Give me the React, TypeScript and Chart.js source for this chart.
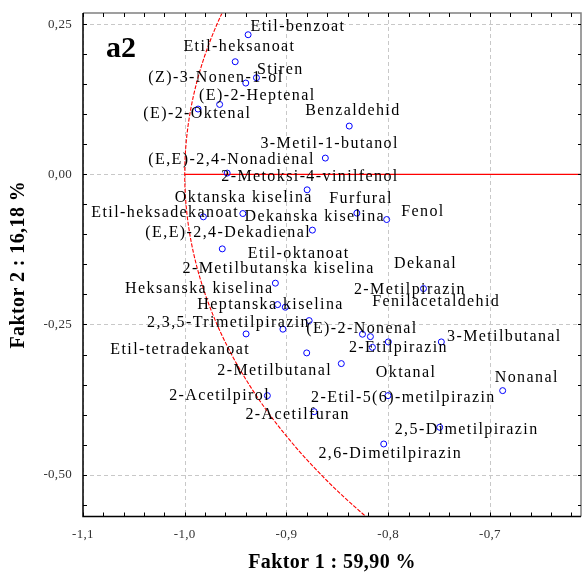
import React, { useEffect, useRef } from "react";
import { Chart, registerables } from "chart.js";

Chart.register(...registerables);

const compounds = [
  "Etil-benzoat", "Etil-heksanoat", "Stiren", "(Z)-3-Nonen-1-ol", "(E)-2-Heptenal",
  "(E)-2-Oktenal", "Benzaldehid", "3-Metil-1-butanol", "(E,E)-2,4-Nonadienal",
  "2-Metoksi-4-vinilfenol", "Oktanska kiselina", "Etil-heksadekanoat", "Furfural", "Fenol",
  "Dekanska kiselina", "(E,E)-2,4-Dekadienal", "2-Metilbutanska kiselina", "Dekanal",
  "Heksanska kiselina", "Heptanska kiselina", "Etil-oktanoat", "2,3,5-Trimetilpirazin",
  "Etil-tetradekanoat", "(E)-2-Nonenal", "2-Metilpirazin", "2-Etilpirazin", "Fenilacetaldehid",
  "3-Metilbutanal", "2-Metilbutanal", "Oktanal", "Nonanal", "2-Etil-5(6)-metilpirazin",
  "2-Acetilfuran", "2,5-Dimetilpirazin", "2,6-Dimetilpirazin", "2-Acetilpirol",
];

const factor1 = [
  -0.9377, -0.9504, -0.9295, -0.94, -0.9657,
  -0.9869, -0.8383, -0.8618, -0.9583,
  -0.8797, -0.9429, -0.9817, -0.8308, -0.8015,
  -0.8745, -0.9631, -0.9109, -0.7653,
  -0.9087, -0.9012, -0.8777, -0.9035,
  -0.9397, -0.8253, -0.8175, -0.7999, -0.8155,
  -0.7478, -0.8801, -0.8461, -0.6875, -0.8002,
  -0.8728, -0.7494, -0.8044, -0.9188,
];

const factor2 = [
  0.2323, 0.1874, 0.1607, 0.1519, 0.1163,
  0.1086, 0.0803, 0.027, 0.002,
  -0.0258, -0.0653, -0.0708, -0.0646, -0.0753,
  -0.0929, -0.1241, -0.1812, -0.1902,
  -0.2169, -0.2212, -0.2435, -0.2578,
  -0.2657, -0.2662, -0.2702, -0.279, -0.2881,
  -0.279, -0.2973, -0.3151, -0.3601, -0.3684,
  -0.3951, -0.4211, -0.4489, -0.3684,
];

// label anchor (left edge, vertical middle) in data units
const labelX = [
  -0.9354, -1.0013, -0.9289, -1.0358, -0.9859,
  -1.0407, -0.8816, -0.9256, -1.0358,
  -0.9641, -1.0097, -1.0918, -0.8579, -0.7872,
  -0.9413, -1.0387, -1.0022, -0.7943,
  -1.0586, -0.9876, -0.938, -1.0371,
  -1.0732, -0.8806, -0.8337, -0.8386, -0.8158,
  -0.7422, -0.968, -0.8122, -0.6953, -0.8758,
  -0.9403, -0.7936, -0.8686, -1.0153,
];

const labelY = [
  0.2462, 0.2129, 0.174, 0.1602, 0.1312,
  0.1003, 0.1058, 0.0508, 0.0242,
  -0.0037, -0.0396, -0.0636, -0.0413, -0.063,
  -0.0703, -0.0969, -0.1579, -0.1496,
  -0.1907, -0.2174, -0.1329, -0.2478,
  -0.2923, -0.2578, -0.1924, -0.2895, -0.2129,
  -0.2712, -0.3278, -0.3311, -0.3394, -0.3718,
  -0.4006, -0.4256, -0.4644, -0.3684,
];

const xMin = -1.1;
const xMax = -0.6105;
const yMin = -0.5696;
const yMax = 0.2685;
const xTickValues = [-1.1, -1.0, -0.9, -0.8, -0.7];
const xTickLabels = ["-1,1", "-1,0", "-0,9", "-0,8", "-0,7"];
const yTickValues = [0.25, 0, -0.25, -0.5];
const yTickLabels = ["0,25", "0,00", "-0,25", "-0,50"];
const xMinorStep = 0.02;
const yMinorStep = 0.05;
const circleRadius = 1;
const xTitle = "Faktor 1 : 59,90 %";
const yTitle = "Faktor 2 : 16,18 %";
const panelTag = "a2";

const SERIF = '"Liberation Serif", "Times New Roman", serif';

const decorPlugin = {
  id: "decor",
  beforeDatasetsDraw(chart: any) {
    const { ctx, chartArea: a, scales } = chart;
    const xs = scales.x, ys = scales.y;
    ctx.save();
    // dashed grid
    ctx.strokeStyle = "#c8c8c8";
    ctx.lineWidth = 1;
    ctx.setLineDash([4, 3]);
    xTickValues.forEach((v) => {
      const px = Math.round(xs.getPixelForValue(v)) + 0.5;
      ctx.beginPath(); ctx.moveTo(px, a.top); ctx.lineTo(px, a.bottom); ctx.stroke();
    });
    yTickValues.forEach((v) => {
      const py = Math.round(ys.getPixelForValue(v)) + 0.5;
      ctx.beginPath(); ctx.moveTo(a.left, py); ctx.lineTo(a.right, py); ctx.stroke();
    });
    // red reference lines
    ctx.beginPath();
    ctx.rect(a.left, a.top, a.right - a.left, a.bottom - a.top);
    ctx.clip();
    ctx.strokeStyle = "#ff0000";
    ctx.setLineDash([]);
    ctx.lineWidth = 1.3;
    const y0 = ys.getPixelForValue(0);
    ctx.beginPath();
    ctx.moveTo(xs.getPixelForValue(-circleRadius), y0);
    ctx.lineTo(a.right, y0);
    ctx.stroke();
    ctx.setLineDash([4, 1.5]);
    ctx.lineWidth = 1.1;
    ctx.beginPath();
    const n = 200;
    for (let i = 0; i <= n; i++) {
      const yv = yMax - (yMax - yMin) * (i / n);
      const xv = -Math.sqrt(circleRadius * circleRadius - yv * yv);
      const px = xs.getPixelForValue(xv), py = ys.getPixelForValue(yv);
      if (i === 0) ctx.moveTo(px, py); else ctx.lineTo(px, py);
    }
    ctx.stroke();
    ctx.restore();
  },
  afterDatasetsDraw(chart: any) {
    const { ctx, chartArea: a, scales } = chart;
    const xs = scales.x, ys = scales.y;
    ctx.save();
    ctx.setLineDash([]);
    // frame
    ctx.strokeStyle = "#808080";
    ctx.lineWidth = 1.5;
    ctx.beginPath();
    ctx.moveTo(a.left, a.top); ctx.lineTo(a.right, a.top); ctx.lineTo(a.right, a.bottom);
    ctx.stroke();
    ctx.strokeStyle = "#000";
    ctx.lineWidth = 1.5;
    ctx.beginPath();
    ctx.moveTo(a.left, a.top); ctx.lineTo(a.left, a.bottom); ctx.lineTo(a.right, a.bottom);
    ctx.stroke();
    // ticks
    ctx.lineWidth = 1;
    ctx.strokeStyle = "#000";
    for (let v = xMin; v <= xMax + 1e-9; v += xMinorStep) {
      const px = Math.round(xs.getPixelForValue(v)) + 0.5;
      ctx.beginPath(); ctx.moveTo(px, a.bottom); ctx.lineTo(px, a.bottom - 4); ctx.stroke();
      ctx.beginPath(); ctx.moveTo(px, a.top); ctx.lineTo(px, a.top + 4); ctx.stroke();
    }
    for (let v = -0.55; v <= yMax + 1e-9; v += yMinorStep) {
      const py = Math.round(ys.getPixelForValue(v)) + 0.5;
      ctx.beginPath(); ctx.moveTo(a.left, py); ctx.lineTo(a.left + 4, py); ctx.stroke();
      ctx.beginPath(); ctx.moveTo(a.right, py); ctx.lineTo(a.right - 3, py); ctx.stroke();
    }
    // tick labels
    ctx.fillStyle = "#333";
    ctx.font = `13px ${SERIF}`;
    (ctx as any).letterSpacing = "0.3px";
    ctx.textBaseline = "middle";
    ctx.textAlign = "center";
    xTickValues.forEach((v, i) => {
      ctx.fillText(xTickLabels[i], xs.getPixelForValue(v), a.bottom + 18);
    });
    ctx.textAlign = "right";
    yTickValues.forEach((v, i) => {
      ctx.fillText(yTickLabels[i], a.left - 11, ys.getPixelForValue(v));
    });
    // axis titles
    ctx.fillStyle = "#000";
    ctx.font = `bold 20px ${SERIF}`;
    (ctx as any).letterSpacing = "0.4px";
    ctx.textAlign = "center";
    ctx.fillText(xTitle, (a.left + a.right) / 2, 563);
    ctx.save();
    ctx.translate(19, (a.top + a.bottom) / 2);
    ctx.rotate(-Math.PI / 2);
    ctx.fillText(yTitle, 0, 0);
    ctx.restore();
    // panel tag
    ctx.font = `bold 30px ${SERIF}`;
    (ctx as any).letterSpacing = "0px";
    ctx.textAlign = "left";
    ctx.textBaseline = "alphabetic";
    ctx.fillText(panelTag, a.left + 23, 57);
    // point labels
    ctx.font = `16px ${SERIF}`;
    (ctx as any).letterSpacing = "1.4px";
    ctx.textBaseline = "middle";
    compounds.forEach((name, i) => {
      ctx.fillText(name, xs.getPixelForValue(labelX[i]), ys.getPixelForValue(labelY[i]));
    });
    ctx.restore();
  },
};

export default function App() {
  const ref = useRef<HTMLCanvasElement | null>(null);
  useEffect(() => {
    if (!ref.current) return;
    const chart = new Chart(ref.current, {
      type: "scatter",
      data: {
        datasets: [
          {
            label: "Spojevi",
            data: factor1.map((x, i) => ({ x, y: factor2[i] })),
            pointRadius: 3,
            pointHoverRadius: 3,
            borderWidth: 1,
            borderColor: "#0000ff",
            backgroundColor: "rgba(0,0,0,0)",
            pointStyle: "circle",
          },
        ],
      },
      options: {
        responsive: false,
        animation: false,
        devicePixelRatio: 1,
        layout: { padding: { left: 83, top: 13, right: 1, bottom: 59.5 } },
        plugins: { legend: { display: false }, tooltip: { enabled: false } },
        scales: {
          x: { type: "linear", display: false, min: xMin, max: xMax },
          y: { type: "linear", display: false, min: yMin, max: yMax },
        },
      },
      plugins: [decorPlugin],
    });
    return () => chart.destroy();
  }, []);
  return (
    <div style={{ position: "fixed", left: 0, top: 0, width: 585, height: 576, background: "#fff" }}>
      <canvas ref={ref} width={585} height={576} />
    </div>
  );
}
